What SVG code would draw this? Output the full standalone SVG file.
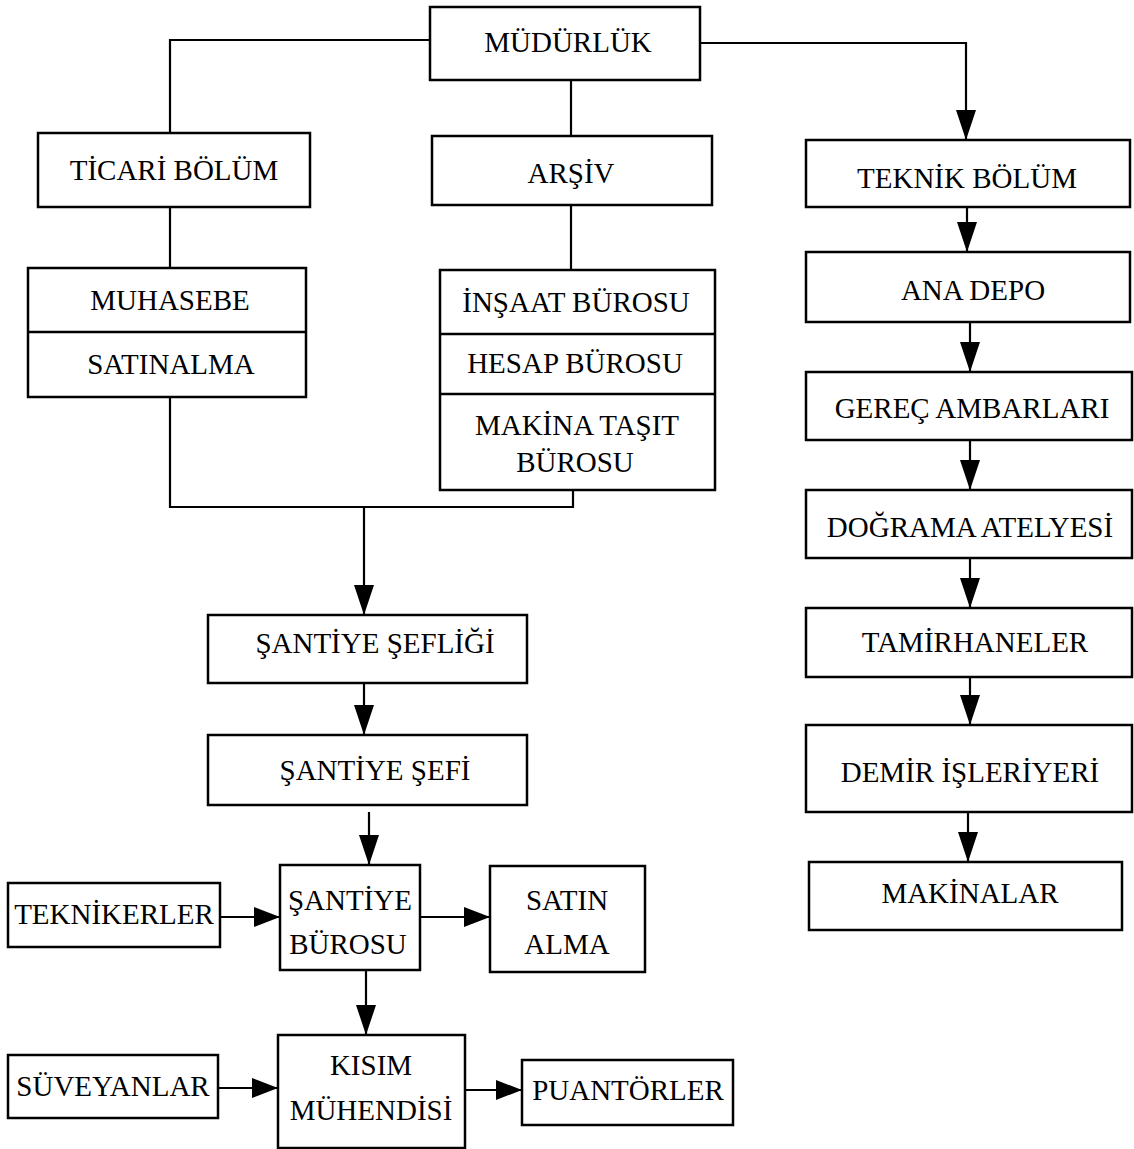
<svg xmlns="http://www.w3.org/2000/svg" width="1134" height="1149" viewBox="0 0 1134 1149">
  <style>
    .box { fill: #fff; stroke: #000; stroke-width: 2.5; }
    .div { stroke: #000; stroke-width: 2.5; }
    .lbl { font-family: "Liberation Serif", "Times New Roman", serif; font-size: 29px; fill: #000; text-anchor: middle; }
    .ln { fill: none; stroke: #000; stroke-width: 2.2; }
  </style>
  <defs>
    <marker id="ah" viewBox="0 0 30 20" refX="30" refY="10" markerWidth="30" markerHeight="20" markerUnits="userSpaceOnUse" orient="auto">
      <path d="M0,0 L30,10 L0,20 Z" fill="#000"/>
    </marker>
    <marker id="ahs" viewBox="0 0 26 20" refX="26" refY="10" markerWidth="26" markerHeight="20" markerUnits="userSpaceOnUse" orient="auto">
      <path d="M0,0 L26,10 L0,20 Z" fill="#000"/>
    </marker>
  </defs>
  <rect width="1134" height="1149" fill="#fff"/>

  <g id="connectors">
    <!-- head office to its branches -->
    <polyline class="ln" points="430,40 170,40 170,133"/>
    <line class="ln" x1="571" y1="80" x2="571" y2="136"/>
    <polyline class="ln" points="700,43 966,43 966,140" marker-end="url(#ah)"/>
    <!-- commercial and archive down to their offices -->
    <line class="ln" x1="170" y1="207" x2="170" y2="268"/>
    <line class="ln" x1="571" y1="205" x2="571" y2="270"/>
    <!-- offices merge into site management -->
    <polyline class="ln" points="170,397 170,507 573,507 573,490"/>
    <line class="ln" x1="364" y1="507" x2="364" y2="615" marker-end="url(#ah)"/>
    <line class="ln" x1="364" y1="683" x2="364" y2="735" marker-end="url(#ah)"/>
    <line class="ln" x1="369" y1="812" x2="369" y2="865" marker-end="url(#ah)"/>
    <line class="ln" x1="220" y1="917" x2="280" y2="917" marker-end="url(#ahs)"/>
    <line class="ln" x1="420" y1="917" x2="490" y2="917" marker-end="url(#ahs)"/>
    <line class="ln" x1="366" y1="970" x2="366" y2="1035" marker-end="url(#ah)"/>
    <line class="ln" x1="218" y1="1088" x2="278" y2="1088" marker-end="url(#ahs)"/>
    <line class="ln" x1="465" y1="1090" x2="522" y2="1090" marker-end="url(#ahs)"/>
    <!-- technical chain -->
    <line class="ln" x1="967" y1="207" x2="967" y2="252" marker-end="url(#ah)"/>
    <line class="ln" x1="970" y1="322" x2="970" y2="372" marker-end="url(#ah)"/>
    <line class="ln" x1="970" y1="440" x2="970" y2="490" marker-end="url(#ah)"/>
    <line class="ln" x1="970" y1="558" x2="970" y2="608" marker-end="url(#ah)"/>
    <line class="ln" x1="970" y1="677" x2="970" y2="725" marker-end="url(#ah)"/>
    <line class="ln" x1="968" y1="812" x2="968" y2="862" marker-end="url(#ah)"/>
  </g>

  <g id="mudurluk">
    <rect class="box" x="430" y="7" width="270" height="73"/>
    <text class="lbl" x="568" y="52">MÜDÜRLÜK</text>
  </g>
  <g id="ticari-bolum">
    <rect class="box" x="38" y="133" width="272" height="74"/>
    <text class="lbl" x="174" y="180">TİCARİ BÖLÜM</text>
  </g>
  <g id="arsiv">
    <rect class="box" x="432" y="136" width="280" height="69"/>
    <text class="lbl" x="571" y="183">ARŞİV</text>
  </g>
  <g id="teknik-bolum">
    <rect class="box" x="806" y="140" width="324" height="67"/>
    <text class="lbl" x="967" y="188">TEKNİK BÖLÜM</text>
  </g>

  <g id="muhasebe-satinalma">
    <rect class="box" x="28" y="268" width="278" height="129"/>
    <line class="div" x1="28" y1="332" x2="306" y2="332"/>
    <text class="lbl" x="170" y="310">MUHASEBE</text>
    <text class="lbl" x="171" y="374">SATINALMA</text>
  </g>
  <g id="burolar">
    <rect class="box" x="440" y="270" width="275" height="220"/>
    <line class="div" x1="440" y1="334" x2="715" y2="334"/>
    <line class="div" x1="440" y1="394" x2="715" y2="394"/>
    <text class="lbl" x="576" y="312">İNŞAAT BÜROSU</text>
    <text class="lbl" x="575" y="373">HESAP BÜROSU</text>
    <text class="lbl" x="577" y="435">MAKİNA TAŞIT</text>
    <text class="lbl" x="575" y="472">BÜROSU</text>
  </g>

  <g id="santiye-sefligi">
    <rect class="box" x="208" y="615" width="319" height="68"/>
    <text class="lbl" x="375" y="653">ŞANTİYE ŞEFLİĞİ</text>
  </g>
  <g id="santiye-sefi">
    <rect class="box" x="208" y="735" width="319" height="70"/>
    <text class="lbl" x="375" y="780">ŞANTİYE ŞEFİ</text>
  </g>
  <g id="teknikerler">
    <rect class="box" x="8" y="883" width="212" height="64"/>
    <text class="lbl" x="114" y="924">TEKNİKERLER</text>
  </g>
  <g id="santiye-burosu">
    <rect class="box" x="280" y="865" width="140" height="105"/>
    <text class="lbl" x="350" y="910">ŞANTİYE</text>
    <text class="lbl" x="348" y="954">BÜROSU</text>
  </g>
  <g id="satin-alma">
    <rect class="box" x="490" y="866" width="155" height="106"/>
    <text class="lbl" x="567" y="910">SATIN</text>
    <text class="lbl" x="567" y="954">ALMA</text>
  </g>
  <g id="suveyanlar">
    <rect class="box" x="8" y="1055" width="210" height="63"/>
    <text class="lbl" x="113" y="1096">SÜVEYANLAR</text>
  </g>
  <g id="kisim-muhendisi">
    <rect class="box" x="278" y="1035" width="187" height="113"/>
    <text class="lbl" x="371" y="1075">KISIM</text>
    <text class="lbl" x="371" y="1120">MÜHENDİSİ</text>
  </g>
  <g id="puantorler">
    <rect class="box" x="522" y="1060" width="211" height="65"/>
    <text class="lbl" x="628" y="1100">PUANTÖRLER</text>
  </g>

  <g id="ana-depo">
    <rect class="box" x="806" y="252" width="324" height="70"/>
    <text class="lbl" x="973" y="300">ANA DEPO</text>
  </g>
  <g id="gerec-ambarlari">
    <rect class="box" x="806" y="372" width="326" height="68"/>
    <text class="lbl" x="972" y="418">GEREÇ AMBARLARI</text>
  </g>
  <g id="dograma-atelyesi">
    <rect class="box" x="806" y="490" width="326" height="68"/>
    <text class="lbl" x="970" y="537">DOĞRAMA ATELYESİ</text>
  </g>
  <g id="tamirhaneler">
    <rect class="box" x="806" y="608" width="326" height="69"/>
    <text class="lbl" x="975" y="652">TAMİRHANELER</text>
  </g>
  <g id="demir-isleriyeri">
    <rect class="box" x="806" y="725" width="326" height="87"/>
    <text class="lbl" x="970" y="782">DEMİR İŞLERİYERİ</text>
  </g>
  <g id="makinalar">
    <rect class="box" x="809" y="862" width="313" height="68"/>
    <text class="lbl" x="970" y="903">MAKİNALAR</text>
  </g>
</svg>
